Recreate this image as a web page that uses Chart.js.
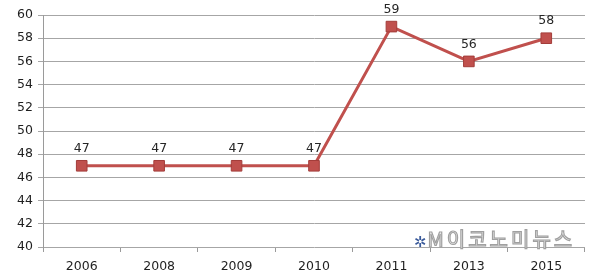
<!DOCTYPE html>
<html>
<head>
<meta charset="utf-8">
<script src="https://cdn.jsdelivr.net/npm/chart.js@4.4.0/dist/chart.umd.min.js"></script>
<style>
html,body{margin:0;padding:0;background:#fff;}
#wrap{position:relative;width:600px;height:280px;}
#wm{position:absolute;left:414px;top:226px;height:26px;line-height:26px;font-family:"Noto Sans CJK KR","DejaVu Sans",sans-serif;font-size:20px;font-weight:normal;color:#fff;-webkit-text-stroke:1.2px #a0a0a0;letter-spacing:3px;white-space:nowrap;background:transparent;}
#wm .logo{color:#3a5a9a;-webkit-text-stroke:0;font-size:15px;letter-spacing:1px;}
</style>
</head>
<body>
<div id="wrap">
<canvas id="c" width="600" height="280"></canvas>
<div id="wm"><span class="logo">✲</span>M이코노미뉴스</div>
</div>
<script>
const categories = ["2006","2008","2009","2010","2011","2013","2015"];
const values = [47,47,47,47,59,56,58];
const yTicks = [40,42,44,46,48,50,52,54,56,58,60];

const labelPlugin = {
  id:'pointLabels',
  afterDatasetsDraw(chart){
    const ctx = chart.ctx;
    const meta = chart.getDatasetMeta(0);
    ctx.save();
    ctx.font = '12.5px "DejaVu Sans"';
    ctx.fillStyle = '#262626';
    ctx.textAlign = 'center';
    ctx.textBaseline = 'middle';
    meta.data.forEach((pt,i)=>{
      ctx.fillText(String(values[i]), pt.x, pt.y - 17);
    });
    ctx.restore();
  }
};

new Chart(document.getElementById('c'),{
  type:'line',
  data:{labels:categories,datasets:[{
    data:values,
    borderColor:'#C0504D',
    borderWidth:3,
    pointStyle:'rect',
    pointRadius:7.5,
    pointBackgroundColor:'#C0504D',
    pointBorderColor:'#A33D3A',
    pointBorderWidth:1,
    tension:0
  }]},
  options:{
    responsive:false,
    animation:false,
    layout:{padding:{top:15,right:15,left:0,bottom:0}},
    plugins:{legend:{display:false},tooltip:{enabled:false}},
    scales:{
      x:{
        offset:true,
        grid:{offset:true,drawOnChartArea:false,drawTicks:true,tickLength:5,color:'#9a9a9a'},
        border:{display:false},
        ticks:{color:'#1f1f1f',font:{family:'DejaVu Sans',size:12.5},padding:7},
        afterFit(s){s.height=33;}
      },
      y:{
        min:40,max:60,
        afterBuildTicks(s){s.ticks=yTicks.map(v=>({value:v}));},
        grid:{color:'#a6a6a6',lineWidth:1,tickLength:5},
        border:{color:'#9a9a9a',width:1},
        ticks:{color:'#1f1f1f',font:{family:'DejaVu Sans',size:12.5},padding:5},
        afterFit(s){s.width=43;}
      }
    }
  },
  plugins:[labelPlugin]
});
</script>
</body>
</html>
